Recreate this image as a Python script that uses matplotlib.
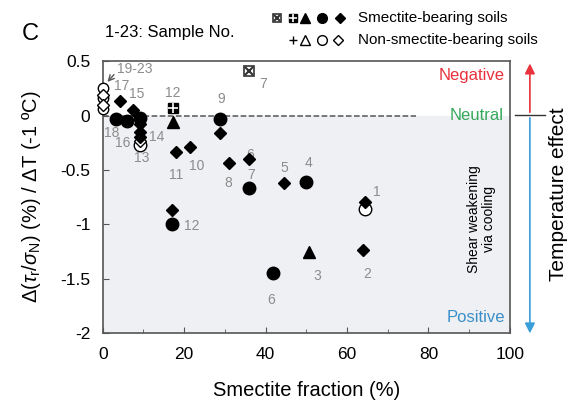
import matplotlib.pyplot as plt
import numpy as np

plt.rcParams["font.family"] = ["Liberation Sans", "DejaVu Sans"]
plt.rcParams["mathtext.fontset"] = "custom"
plt.rcParams["mathtext.rm"] = "Liberation Sans"
plt.rcParams["mathtext.it"] = "Liberation Sans:italic"

# smectite-bearing soils (filled)
circle_x = [3.2, 5.9, 9.1, 28.7, 36.0, 49.9, 41.8, 17.0]
circle_y = [-0.03, -0.05, -0.02, -0.03, -0.67, -0.61, -1.45, -1.00]
diamond_x = [4.2, 7.4, 9.1, 9.1, 9.1, 17.9, 21.4, 28.7, 31.0, 36.0, 44.5, 64.4, 63.9, 17.0]
diamond_y = [0.13, 0.055, -0.08, -0.15, -0.20, -0.34, -0.29, -0.16, -0.44, -0.40, -0.62, -0.80, -1.24, -0.87]
triangle_x = [17.2, 50.6]
triangle_y = [-0.06, -1.26]
gridsq_x = [17.2]
gridsq_y = [0.065]
xsq_x = [36.0]
xsq_y = [0.41]

# non-smectite-bearing soils (open)
ocircle_x = [0, 0, 0, 9.1, 64.4]
ocircle_y = [0.25, 0.16, 0.06, -0.27, -0.86]
odiamond_x = [0, 0, 9.1]
odiamond_y = [0.19, 0.10, -0.23]

# sample numbers
lab_text = ["17", "15", "18", "16", "14", "13", "12", "11", "10", "9", "8", "7",
            "6", "7", "5", "4", "1", "2", "3", "6", "12"]
lab_x = [4.7, 8.4, 2.2, 4.9, 13.3, 9.6, 17.2, 17.9, 23.1, 29.0, 30.7, 39.3,
         36.1, 36.4, 44.5, 50.6, 67.3, 64.9, 52.6, 41.3, 21.9]
lab_y = [0.27, 0.20, -0.16, -0.25, -0.20, -0.39, 0.21, -0.55, -0.46, 0.15, -0.62, 0.29,
         -0.36, -0.55, -0.48, -0.44, -0.70, -1.46, -1.48, -1.70, -1.02]

fig = plt.figure(figsize=(5.71, 4.05), dpi=100)
ax = fig.add_axes([0.180, 0.178, 0.713, 0.671])
ax.set_xlim(0, 100)
ax.set_ylim(-2, 0.5)

ax.axhspan(-2, 0, color="#eef0f3", zorder=0)
ax.plot([0, 77], [0, 0], ls="--", color="#555555", lw=1.1, zorder=1)


def draw(x, y, kind, ms=9, **kw):
    if kind == "circle":
        ax.plot(x, y, "o", ms=ms, mfc="black", mec="black", zorder=5, clip_on=False, **kw)
    elif kind == "diamond":
        ax.plot(x, y, "D", ms=ms * 0.72, mfc="black", mec="black", zorder=5, clip_on=False, **kw)
    elif kind == "triangle":
        ax.plot(x, y, "^", ms=ms, mfc="black", mec="black", zorder=5, clip_on=False, **kw)
    elif kind == "ocircle":
        ax.plot(x, y, "o", ms=ms, mfc="white", mec="black", mew=1.0, zorder=4, clip_on=False, **kw)
    elif kind == "odiamond":
        ax.plot(x, y, "D", ms=ms * 0.72, mfc="white", mec="black", mew=1.0, zorder=4, clip_on=False, **kw)
    elif kind == "otriangle":
        ax.plot(x, y, "^", ms=ms, mfc="white", mec="black", mew=1.0, zorder=4, clip_on=False, **kw)
    elif kind == "gridsq":
        ax.plot(x, y, "s", ms=ms * 0.8, mfc="black", mec="black", zorder=5, clip_on=False, **kw)
        ax.plot(x, y, "+", ms=ms * 0.8, mec="white", mew=1.2, zorder=6, clip_on=False, **kw)
    elif kind == "xsq":
        ax.plot(x, y, "s", ms=ms * 0.8, mfc="white", mec="#333333", mew=1.2, zorder=5, clip_on=False, **kw)
        ax.plot(x, y, "x", ms=ms * 0.6, mec="#333333", mew=1.5, zorder=6, clip_on=False, **kw)
    elif kind == "plus":
        ax.plot(x, y, "+", ms=ms * 0.8, mec="black", mew=1.0, zorder=6, clip_on=False, **kw)


draw(ocircle_x[:3], ocircle_y[:3], "ocircle", ms=7.5)
draw(odiamond_x[:2], odiamond_y[:2], "odiamond", ms=8)
draw(ocircle_x[3:], ocircle_y[3:], "ocircle")
draw(odiamond_x[2:], odiamond_y[2:], "odiamond")
draw(circle_x, circle_y, "circle")
draw(diamond_x, diamond_y, "diamond")
draw(triangle_x, triangle_y, "triangle")
draw(gridsq_x, gridsq_y, "gridsq")
draw(xsq_x, xsq_y, "xsq")

for t, x, y in zip(lab_text, lab_x, lab_y):
    ax.text(x, y, t, color="#8c8c8c", fontsize=10, ha="center", va="center", zorder=3)

ax.text(3.4, 0.43, "19-23", color="#8c8c8c", fontsize=10, ha="left", va="center")
ax.annotate("", xy=(0.7, 0.29), xytext=(3.2, 0.395),
            arrowprops=dict(arrowstyle="->", color="#555555", lw=1))

ax.text(98.8, 0.37, "Negative", color="#e8323c", fontsize=12, ha="right", va="center")
ax.text(98.5, 0.0, "Neutral", color="#35a85a", fontsize=12, ha="right", va="center")
ax.text(98.8, -1.86, "Positive", color="#3a8fc8", fontsize=12, ha="right", va="center")
ax.text(93, -0.95, "Shear weakening\nvia cooling", fontsize=10, rotation=90,
        ha="center", va="center", linespacing=1.1)

ax.set_xticks(np.arange(0, 101, 20))
ax.set_xticks(np.arange(0, 101, 10), minor=True)
ax.set_yticks(np.arange(-2, 0.51, 0.5))
ax.set_yticklabels(["-2", "-1.5", "-1", "-0.5", "0", "0.5"])
ax.tick_params(direction="in", labelsize=12.5, length=4, color="#555555", top=False, right=False)
ax.tick_params(axis="x", pad=10)
ax.tick_params(axis="y", pad=9)
ax.tick_params(which="minor", direction="in", length=3, color="#555555")
for s in ax.spines.values():
    s.set_color("#555555")
    s.set_linewidth(1.2)

ax.set_xlabel("Smectite fraction (%)", fontsize=14.5, labelpad=14)
ax.set_ylabel(r"$\Delta$($\tau_{\rm r}$/$\sigma_{\rm N}$) (%) / $\Delta$T (-1 ºC)", fontsize=14.5, labelpad=12)

# temperature effect arrow on the right
fig.patches.append(plt.matplotlib.patches.FancyArrowPatch(
    (0.928, 0.716), (0.928, 0.850), transform=fig.transFigure,
    arrowstyle="-|>,head_length=6,head_width=3", color="#e8323c", lw=1.2))
fig.patches.append(plt.matplotlib.patches.FancyArrowPatch(
    (0.928, 0.716), (0.928, 0.170), transform=fig.transFigure,
    arrowstyle="-|>,head_length=6,head_width=3", color="#3a9fd8", lw=1.2))
fig.add_artist(plt.Line2D([0.902, 0.954], [0.716, 0.716], color="#333333", lw=1))
fig.text(0.978, 0.52, "Temperature effect", fontsize=15, rotation=90, ha="center", va="center")

# header texts and symbol key
fig.text(0.053, 0.916, "C", fontsize=17, ha="center", va="center")
fig.text(0.184, 0.919, "1-23: Sample No.", fontsize=12, ha="left", va="center")

key1 = [(277, "xsq"), (293, "gridsq"), (305, "triangle"), (322, "circle"), (340, "diamond")]
key2 = [(293, "plus"), (305, "otriangle"), (322, "ocircle"), (338, "odiamond")]
for px, k in key1:
    draw([px / 571], [1 - 18 / 405], k, ms=7, transform=fig.transFigure)
for px, k in key2:
    draw([px / 571], [1 - 40 / 405], k, ms=7, transform=fig.transFigure)
fig.text(358 / 571, 1 - 18 / 405, "Smectite-bearing soils", fontsize=11, ha="left", va="center")
fig.text(358 / 571, 1 - 40 / 405, "Non-smectite-bearing soils", fontsize=11, ha="left", va="center")

fig.savefig("out.png", dpi=100)
